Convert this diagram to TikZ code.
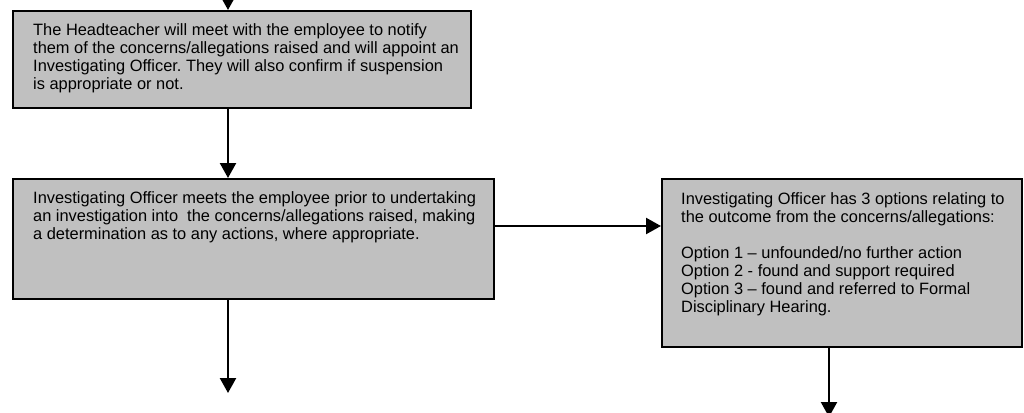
\documentclass[tikz,border=0pt]{standalone}
\usepackage{fontspec}
\setmainfont{Liberation Sans}
\usetikzlibrary{arrows.meta}
\definecolor{boxgray}{HTML}{C0C0C0}
\frenchspacing
\begin{document}
\begin{tikzpicture}[x=1pt,y=-1pt,
  box/.style={draw=black, line width=2pt, fill=boxgray, inner sep=0pt, anchor=north west},
  txt/.style={inner sep=0pt, anchor=north west, align=left, font=\fontsize{16.4}{18}\selectfont},
  arr/.style={line width=2.3pt, -{Triangle[length=15pt,width=16pt]}}]
\useasboundingbox (0,0) rectangle (1024,412);
% boxes
\node[box, minimum width=458pt, minimum height=97pt] (hd) at (12,10) {};
\node[box, minimum width=481pt, minimum height=120pt] (inv) at (12,178) {};
\node[box, minimum width=360pt, minimum height=168pt] (opt) at (661,178) {};
% texts
\node[txt] (hdt) at (33,23) {The Headteacher will meet with the employee to notify\\
them of the concerns/allegations raised and will appoint an\\
Investigating Officer. They will also confirm if suspension\\
is appropriate or not.};
\node[txt] (invt) at (33,191.5) {Investigating Officer meets the employee prior to undertaking\\
an investigation into\ \ the concerns/allegations raised, making\\
a determination as to any actions, where appropriate.};
\node[txt] (optt) at (681,192) {Investigating Officer has 3 options relating to\\
the outcome from the concerns/allegations:\\[18pt]
Option 1 -- unfounded/no further action\\
Option 2 - found and support required\\
Option 3 -- found and referred to Formal\\
Disciplinary Hearing.};
% connector guides
\coordinate (c1) at (228,-12);
\coordinate (c2) at (228,393);
\coordinate (c3) at (829,417);
\coordinate (h1) at (0,226);
% connectors
\draw[arr] (c1) -- (hd.north -| c1);
\draw[arr] (hd.south -| c1) -- (inv.north -| c1);
\draw[arr] (inv.south -| c2) -- (c2);
\draw[arr] (inv.east |- h1) -- (opt.west |- h1);
\draw[arr] (opt.south -| c3) -- (c3);
\end{tikzpicture}
\end{document}
